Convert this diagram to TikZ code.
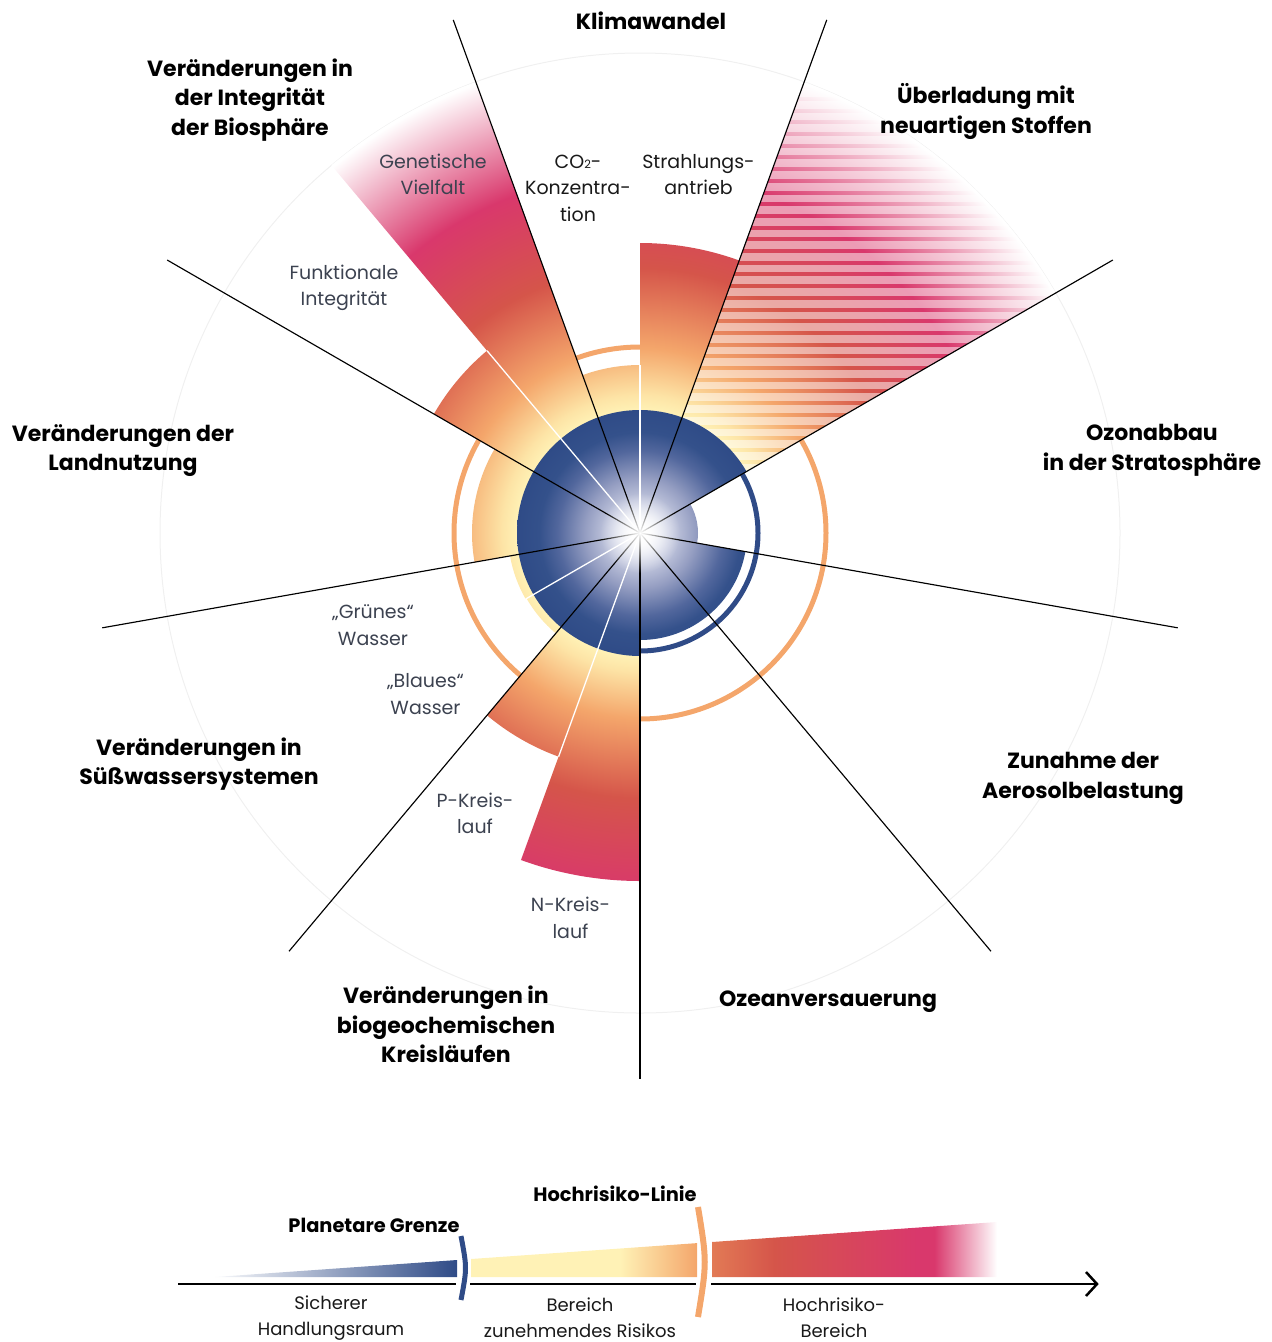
\documentclass[tikz,border=0pt]{standalone}
\usepackage{fontspec}
\setmainfont{Poppins}
\usetikzlibrary{fadings}
\definecolor{pbblue}{HTML}{2F4B87}
\definecolor{hrorange}{HTML}{F4A66B}
\definecolor{wyel}{HTML}{FFF2B6}
\definecolor{wyelb}{HTML}{FDE4A6}
\definecolor{wred}{HTML}{D5554A}
\definecolor{wpink}{HTML}{D9386C}
\definecolor{lred}{HTML}{E27A55}
\definecolor{subgray}{HTML}{3C4250}
\definecolor{blA}{HTML}{CED2E5}
\definecolor{blB}{HTML}{959EC2}
\definecolor{blC}{HTML}{52679D}
\definecolor{blD}{HTML}{34518B}
\pgfdeclareradialshading{warm}{\pgfpointorigin}{color(0bp)=(wyel); color(6.35bp)=(wyel); color(7.19bp)=(wyelb); color(9.64bp)=(hrorange); color(13.8bp)=(wred); color(18.75bp)=(wpink); color(24.9bp)=(white); color(50bp)=(white)}
\pgfdeclareradialshading{bluegrad}{\pgfpointorigin}{color(0bp)=(white); color(1.4bp)=(white); color(5.5bp)=(blA); color(11.2bp)=(blB); color(16.8bp)=(blC); color(20.5bp)=(blD); color(25bp)=(pbblue); color(50bp)=(pbblue)}
\pgfdeclarehorizontalshading{legyel}{100bp}{color(0bp)=(wyel); color(25bp)=(wyel); color(58bp)=(wyel); color(75bp)=(hrorange); color(100bp)=(hrorange)}
\pgfdeclarehorizontalshading{legred}{100bp}{color(0bp)=(lred); color(25bp)=(lred); color(36bp)=(wred); color(61bp)=(wpink); color(64bp)=(wpink); color(75bp)=(white); color(100bp)=(white)}
\tikzfading[name=glowfade, inner color=transparent!0, outer color=transparent!100]
\tikzset{
  headlbl/.style={font=\bfseries\fontsize{22}{29.5}\selectfont, align=center, text=black, inner sep=0pt},
  sublbl/.style={font=\fontsize{19}{26.5}\selectfont, align=center, text=subgray, inner sep=0pt},
  sublblk/.style={sublbl, text=black!90},
  leglbl/.style={font=\fontsize{18}{26}\selectfont, align=center, text=black!90, inner sep=0pt},
  legbold/.style={font=\bfseries\fontsize{19.4}{26}\selectfont, align=center, text=black, inner sep=0pt},
  divline/.style={black, line width=1.15},
  subline/.style={white, line width=1.3},
  axisline/.style={black, line width=2.5}
}
\begin{document}
\begin{tikzpicture}[x=1pt,y=1pt]
\useasboundingbox (0,0) rectangle (1272,-1342);
\coordinate (O) at (640,-533);
\begin{scope}[shift={(O)}]
  % faint outer circle and high-risk ring
  \draw[black!6, line width=1] (0,0) circle (480);
  \draw[hrorange, line width=5] (0,0) circle (186);
  % warm sectors
  \foreach \aa/\bb/\rr in {70/90/290, 90/110/168, 110/130/480, 130/150/238, 150/190/168, 190/210/132, 210/230/131, 230/250/238, 250/270/348}{
    \begin{scope}
      \clip (0,0) -- (\aa:\rr) arc[start angle=\aa, end angle=\bb, radius=\rr] -- cycle;
      \shade[shading=warm] (0,0) circle (480);
    \end{scope}
  }
  % novel entities, striped
  \begin{scope}
    \clip (0,0) -- (30:480) arc[start angle=30, end angle=70, radius=480] -- cycle;
    \shade[shading=warm] (0,0) circle (480);
    \foreach \k in {-15,...,25}{
      \fill[white, opacity=0.5] (0,{280-\k*11.7}) rectangle (480,{272.3-\k*11.7});
    }
  \end{scope}
  % safe operating space
  \begin{scope}
    \clip (30:123) arc[start angle=30, end angle=270, radius=123] -- (270:107)
      arc[start angle=270, end angle=350, radius=107] -- (350:58)
      arc[start angle=350, end angle=390, radius=58] -- cycle;
    \shade[shading=bluegrad] (0,0) circle (123);
  \end{scope}
  \draw[pbblue, line width=5] (270:118) arc[start angle=270, end angle=390, radius=118];
  % sub-dividers
  \foreach \aa/\rr in {90/168, 130/238, 210/132, 250/238}{
    \draw[subline] (0,0) -- (\aa:\rr);
  }
  % sector dividers
  \foreach \aa in {30,70,110,150,190,230,270,310,350}{
    \draw[divline] (0,0) -- (\aa:546);
  }
  \fill[white, path fading=glowfade] (0,0) circle (40);
\end{scope}
% headings
\node[headlbl] (hKlima) at (651,-21) {Klimawandel};
\node[headlbl] (hStoffe) at (986,-111.5) {Überladung mit\\neuartigen Stoffen};
\node[headlbl] (hBio) at (250,-100) {Veränderungen in\\der Integrität\\der Biosphäre};
\node[headlbl] (hOzon) at (1152,-450.5) {Ozonabbau\\in der Stratosphäre};
\node[headlbl] (hLand) at (123,-450.5) {Veränderungen der\\Landnutzung};
\node[headlbl] (hWasser) at (199,-764) {Veränderungen in\\Süßwassersystemen};
\node[headlbl] (hAero) at (1083,-778.5) {Zunahme der\\Aerosolbelastung};
\node[headlbl] (hOzean) at (828,-1002) {Ozeanversauerung};
\node[headlbl] (hKreis) at (446,-1024.5) {Veränderungen in\\biogeochemischen\\Kreisläufen};
% sub labels
\node[sublbl] (sGen) at (433,-174.5) {Genetische\\Vielfalt};
\node[sublblk] (sCO) at (578,-188) {CO{\fontsize{11.5}{11}\selectfont 2}-\\Konzentra-\\tion};
\node[sublblk] (sStr) at (698.5,-174.5) {Strahlungs-\\antrieb};
\node[sublbl] (sFun) at (344,-288) {Funktionale\\Integrität};
\node[sublbl] (sGruen) at (373,-625) {„Grünes“\\Wasser};
\node[sublbl] (sBlau) at (425.5,-694) {„Blaues“\\Wasser};
\node[sublbl] (sP) at (475,-813.5) {P-Kreis-\\lauf};
\node[sublbl] (sN) at (570.5,-918) {N-Kreis-\\lauf};
% legend
\shade[left color=pbblue!3, right color=pbblue] (215,-1277) -- (457,-1277) -- (457,-1260) -- cycle;
\shade[shading=legyel] (471,-1277) -- (697,-1277) -- (697,-1243.1) -- (471,-1259) -- cycle;
\shade[shading=legred] (712,-1277) -- (997,-1277) -- (997,-1222) -- (712,-1242) -- cycle;
\coordinate (axA) at (178,-1284);
\coordinate (axB) at (456,-1284);
\coordinate (axC) at (470,-1284);
\coordinate (axD) at (696,-1284);
\coordinate (axE) at (711,-1284);
\coordinate (axF) at (1097,-1284);
\draw[axisline] (axA) -- (axB);
\draw[axisline] (axC) -- (axD);
\draw[axisline] (axE) -- (axF);
\draw[axisline, line join=miter] (1086,-1272) -- (axF) -- (1086,-1296);
\draw[pbblue, line width=5] (461,-1236) .. controls (467,-1268) .. (461,-1300);
\draw[hrorange, line width=6] (698,-1207) .. controls (707,-1262) .. (698,-1317);
\node[legbold] (lPG) at (374,-1225) {Planetare Grenze};
\node[legbold] (lHL) at (615,-1194) {Hochrisiko-Linie};
\node[leglbl] (lS) at (331,-1318) {Sicherer\\Handlungsraum};
\node[leglbl] (lB) at (580,-1318) {Bereich\\zunehmendes Risikos};
\node[leglbl] (lH) at (834,-1318) {Hochrisiko-\\Bereich};
\end{tikzpicture}
\end{document}
